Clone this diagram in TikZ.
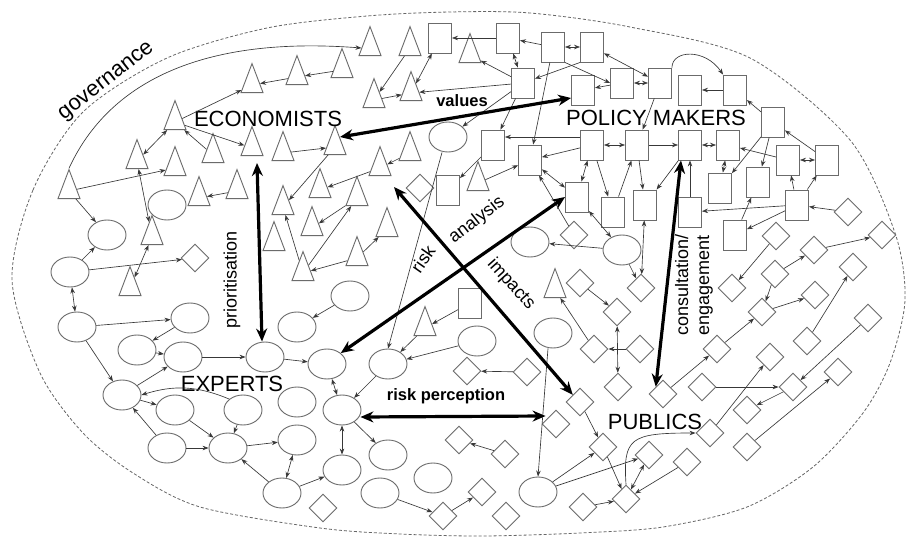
\documentclass[tikz,border=0pt]{standalone}
\usepackage{fontspec}
\setmainfont{Liberation Sans}
\usetikzlibrary{shapes.geometric,arrows.meta}
\begin{document}
\begin{tikzpicture}[x=1pt,y=-1pt,
  shp/.style={draw=black!58, line width=0.9pt, inner sep=0pt, fill=white},
  tri/.style={shp, isosceles triangle, isosceles triangle apex angle=40, isosceles triangle stretches, shape border rotate=90, minimum width=22pt, minimum height=29pt},
  rct/.style={shp, rectangle, minimum width=23pt, minimum height=30pt},
  ell/.style={shp, ellipse, minimum width=38pt, minimum height=30pt},
  dia/.style={shp, diamond, aspect=1, minimum width=28pt, minimum height=28pt},
  con/.style={draw=black!78, line width=0.65pt, -{Stealth[length=6pt,width=4.5pt]}},
  dcon/.style={draw=black!78, line width=0.65pt, {Stealth[length=6pt,width=4.5pt]}-{Stealth[length=6pt,width=4.5pt]}},
  thk/.style={draw=black, line width=3.2pt, {Stealth[length=13pt,width=11pt]}-{Stealth[length=13pt,width=11pt]}},
  big/.style={font=\fontsize{22}{24}\selectfont, inner sep=0pt},
  mid/.style={font=\fontsize{18}{21}\selectfont, inner sep=0pt},
  midb/.style={font=\fontsize{16.5}{20}\selectfont\bfseries, inner sep=0pt}]
\useasboundingbox (0,0) rectangle (907,540);
\fill[white] (0,0) rectangle (907,540);
\draw[black!60, line width=0.8pt, dash pattern=on 3pt off 2pt] plot[smooth cycle] coordinates {
 (12,280) (33,190) (83,112) (167,58) (267,28) (367,16) (450,12) (530,13) (630,27) (750,58) (850,140) (895,233) (905,300) (890,363) (863,413) (813,467) (747,507) (663,527) (580,533) (483,536) (400,534) (320,528) (200,507) (133,473) (83,433) (40,373)};
% triangles
\node[tri] (t1) at (370,48) {};
\node[tri] (t2) at (410,48) {};
\node[tri] (t3) at (342,70) {};
\node[tri] (t4) at (297,77) {};
\node[tri] (t5) at (252,85) {};
\node[tri] (t6) at (374,100) {};
\node[tri] (t7) at (411,93) {};
\node[tri] (t8) at (175,122) {};
\node[tri] (t9) at (252,148) {};
\node[tri] (t10) at (283,153) {};
\node[tri] (t11) at (335,147) {};
\node[tri] (t12) at (137,161) {};
\node[tri] (t13) at (175,168) {};
\node[tri] (t14) at (213,155) {};
\node[tri] (t15) at (380,168) {};
\node[tri] (t16) at (410,153) {};
\node[tri] (t17) at (69,191) {};
\node[tri] (t18) at (199,198) {};
\node[tri] (t19) at (237,191) {};
\node[tri] (t20) at (283,207) {};
\node[tri] (t21) at (320,190) {};
\node[tri] (t22) at (357,198) {};
\node[tri] (t23) at (152,237) {};
\node[tri] (t24) at (274,243) {};
\node[tri] (t25) at (312,228) {};
\node[tri] (t26) at (387,229) {};
\node[tri] (t27) at (357,258) {};
\node[tri] (t28) at (303,273) {};
\node[tri] (t29) at (478,183) {};
\node[tri] (t30) at (555,290) {};
\node[tri] (t31) at (130,288) {};
\node[tri] (t32) at (425,328) {};
\node[tri] (t33) at (470,55) {};
% rectangles
\node[rct] (r1) at (440,38) {};
\node[rct] (r2) at (508,38) {};
\node[rct] (r3) at (553,47) {};
\node[rct] (r4) at (592,47) {};
\node[rct] (r5) at (523,83) {};
\node[rct] (r6) at (583,90) {};
\node[rct] (r7) at (622,83) {};
\node[rct] (r8) at (660,83) {};
\node[rct] (r9) at (690,90) {};
\node[rct] (r10) at (735,90) {};
\node[rct] (r11) at (773,122) {};
\node[rct] (r12) at (493,145) {};
\node[rct] (r13) at (530,160) {};
\node[rct] (r14) at (592,145) {};
\node[rct] (r15) at (637,145) {};
\node[rct] (r16) at (690,145) {};
\node[rct] (r17) at (728,145) {};
\node[rct] (r18) at (788,160) {};
\node[rct] (r19) at (827,160) {};
\node[rct] (r20) at (577,197) {};
\node[rct] (r21) at (613,212) {};
\node[rct] (r22) at (645,205) {};
\node[rct] (r23) at (690,212) {};
\node[rct] (r24) at (720,188) {};
\node[rct] (r25) at (758,182) {};
\node[rct] (r26) at (797,205) {};
\node[rct] (r27) at (735,235) {};
\node[rct] (r28) at (448,190) {};
\node[rct] (r29) at (470,303) {};
% ellipses
\node[ell] (e1) at (167,205) {};
\node[ell] (e2) at (107,235) {};
\node[ell] (e3) at (70,272) {};
\node[ell] (e4) at (77,327) {};
\node[ell] (e5) at (190,318) {};
\node[ell] (e6) at (137,350) {};
\node[ell] (e7) at (183,357) {};
\node[ell] (e8) at (122,395) {};
\node[ell] (e9) at (175,410) {};
\node[ell] (e10) at (243,410) {};
\node[ell] (e11) at (167,448) {};
\node[ell] (e12) at (228,448) {};
\node[ell] (e13) at (297,440) {};
\node[ell] (e14) at (265,357) {};
\node[ell] (e15) at (297,327) {};
\node[ell] (e16) at (297,402) {};
\node[ell] (e17) at (282,493) {};
\node[ell] (e18) at (327,364) {};
\node[ell] (e19) at (350,296) {};
\node[ell] (e20) at (388,364) {};
\node[ell] (e21) at (342,410) {};
\node[ell] (e22) at (388,455) {};
\node[ell] (e23) at (342,470) {};
\node[ell] (e24) at (433,478) {};
\node[ell] (e25) at (380,493) {};
\node[ell] (e26) at (477,341) {};
\node[ell] (e27) at (538,492) {};
\node[ell] (e28) at (553,333) {};
\node[ell] (e29) at (530,242) {};
\node[ell] (e30) at (622,250) {};
\node[ell] (e31) at (448,137) {};
% diamonds
\node[dia] (d1) at (195,258) {};
\node[dia] (d2) at (323,508) {};
\node[dia] (d3) at (443,516) {};
\node[dia] (d4) at (467,371) {};
\node[dia] (d5) at (527,372) {};
\node[dia] (d6) at (556,424) {};
\node[dia] (d7) at (580,402) {};
\node[dia] (d8) at (459,440) {};
\node[dia] (d9) at (505,454) {};
\node[dia] (d10) at (482,492) {};
\node[dia] (d11) at (506,516) {};
\node[dia] (d12) at (583,507) {};
\node[dia] (d13) at (603,447) {};
\node[dia] (d14) at (594,349) {};
\node[dia] (d15) at (580,283) {};
\node[dia] (d16) at (641,288) {};
\node[dia] (d17) at (617,312) {};
\node[dia] (d18) at (640,349) {};
\node[dia] (d19) at (618,387) {};
\node[dia] (d20) at (663,394) {};
\node[dia] (d21) at (649,455) {};
\node[dia] (d22) at (687,462) {};
\node[dia] (d23) at (710,433) {};
\node[dia] (d24) at (626,499) {};
\node[dia] (d25) at (732,288) {};
\node[dia] (d26) at (775,274) {};
\node[dia] (d27) at (762,312) {};
\node[dia] (d28) at (815,295) {};
\node[dia] (d29) at (717,349) {};
\node[dia] (d30) at (770,357) {};
\node[dia] (d31) at (807,341) {};
\node[dia] (d32) at (868,318) {};
\node[dia] (d33) at (702,387) {};
\node[dia] (d34) at (793,387) {};
\node[dia] (d35) at (838,372) {};
\node[dia] (d36) at (747,410) {};
\node[dia] (d37) at (747,447) {};
\node[dia] (d40) at (574,235) {};
\node[dia] (d41) at (776,236) {};
\node[dia] (d42) at (814,250) {};
\node[dia] (d43) at (848,212) {};
\node[dia] (d44) at (853,267) {};
\node[dia] (d45) at (882,235) {};
\node[dia] (d46) at (420,188) {};
% labels
\node[big] (leco) at (268,119) {ECONOMISTS};
\node[big] (lpol) at (656,118) {POLICY MAKERS};
\node[big] (lexp) at (232,384) {EXPERTS};
\node[big] (lpub) at (655,422) {PUBLICS};
\node[big, rotate=38] (lgov) at (107,82) {governance};
\node[midb] (lval) at (462,101) {values};
\node[midb] (lrp) at (446,396) {risk perception};
\node[mid, rotate=90] (lpri) at (232,280) {prioritisation};
\node[mid, rotate=55] (lrisk) at (423,259) {risk};
\node[mid, rotate=38] (lana) at (477,220) {analysis};
\node[mid, rotate=-48] (limp) at (511,284) {impacts};
\node[mid, rotate=90, align=left] (lcon) at (694,285) {consultation/\\engagement};
% thin connectors: triangles
\draw[con] (t17.north) .. controls (105,90) and (190,35) .. (t1.west);
\draw[con] (t3) -- (t4);
\draw[con] (t4) -- (t5);
\draw[con] (t8) -- (t5);
\draw[con] (t2) -- (t6);
\draw[con] (t6) -- (t7);
\draw[dcon] (t7) -- (r1);
\draw[con] (r5) -- (t7);
\draw[con] (r5) -- (t33);
\draw[dcon] (t8) -- (t12);
\draw[con] (t14) -- (t8);
\draw[con] (t8) -- (t9);
\draw[con] (t10) -- (t11);
\draw[con] (t17) -- (t13);
\draw[con] (t17) -- (e2);
\draw[con] (e3) -- (e2);
\draw[con] (e3) -- (d1);
\draw[dcon] (t12) -- (t23);
\draw[dcon] (t23) -- (t31);
\draw[dcon] (e3) -- (e4);
\draw[con] (t19) -- (t18);
\draw[con] (t11) -- (t20);
\draw[con] (t16) -- (t15);
\draw[con] (t15) -- (t21);
\draw[con] (t22) -- (t25);
\draw[con] (t28) -- (t22);
\draw[con] (t28) -- (t20);
\draw[con] (t27) -- (t28);
\draw[con] (t27) -- (t26);
% rectangles
\draw[con] (r2) -- (r1);
\draw[con] (r3) -- (r2);
\draw[dcon] (r2) -- (r5);
\draw[dcon] (r3) -- (r4);
\draw[con] (r4.south west) -- (r5);
\draw[con] (r3.south east) -- (r7.west);
\draw[con] (r7) -- (r6);
\draw[dcon] (r4) -- (r8);
\draw[dcon] (r7) -- (r8);
\draw[con] (r8.north east) .. controls (672,50) and (705,48) .. (r10.north west);
\draw[con] (r10) -- (r9);
\draw[con] (r11) -- (r10);
\draw[con] (r3) -- (r13);
\draw[con] (r5) -- (r12);
\draw[con] (r5) -- (e31);
\draw[con] (r8) -- (r15);
\draw[con] ([shift={(0,-8)}]r14.west) -- ([shift={(0,-8)}]r12.east);
\draw[dcon] (r14) -- (r15);
\draw[con] (r15) -- (r16);
\draw[dcon] (r16) -- (r17);
\draw[dcon] (r17) -- (r24);
\draw[dcon] (r18) -- (r19);
\draw[con] (r19) -- (r11);
\draw[con] (r18) -- (r17);
\draw[con] (r11) -- (r24);
\draw[con] (r11) -- (r25);
\draw[con] (r26) -- (r18);
\draw[con] (r26) -- (r19);
\draw[con] (d43) -- (r26);
\draw[con] (r26) -- (r23);
\draw[con] (r26) -- (r27);
\draw[con] (r27) -- (r25);
\draw[con] (r23) -- (r16);
\draw[con] (r16) -- (r22);
\draw[con] (r14) -- (r21);
\draw[con] (r21) -- (r15);
\draw[con] (r15) -- (r22);
\draw[dcon] (r14) -- (r20);
\draw[dcon] (r13) -- (r20);
\draw[con] (r14) -- (r13);
\draw[con] (r12) -- (r28);
\draw[con] (t29) -- (r13);
\draw[con] (d40) -- (r13);
\draw[dcon] (r20) -- (e30);
\draw[con] (e30) -- (e29);
\draw[con] (e30) -- (d16);
\draw[dcon] (r22) -- (d16);
\draw[con] (r29) -- (t32);
% ellipses
\draw[con] ([shift={(-6,0)}]e31.south) -- (e20.north);
\draw[con] (e19) -- (e15);
\draw[con] (e26) -- (e20);
\draw[con] (t32) -- (e20);
\draw[con] (e20) -- (e21);
\draw[dcon] (e18) -- (e21);
\draw[con] (d5) -- (d4);
\draw[con] (e21) -- (e22);
\draw[dcon] (e21) -- (e23);
\draw[con] (d9) -- (d8);
\draw[con] (e25) -- (d3);
\draw[con] (d3) -- (d10);
\draw[con] ([shift={(-5,0)}]e28.south) -- (e27.north);
\draw[con] (e27) -- (d13);
\draw[con] (e27) -- (d21);
\draw[con] (e17) -- (e23);
\draw[con] (e17) -- (e12);
\draw[dcon] (e17) -- (e13);
\draw[con] (e12) -- (e13);
\draw[con] (e11) -- (e12);
\draw[con] (e11) -- (e8);
\draw[con] (e9) -- (e12);
\draw[con] (e10) -- (e12);
\draw[con] (e10.north west) to[bend right=20] (e8.east);
\draw[con] (e8) -- (e9);
\draw[con] (e8) -- (e7);
\draw[con] (e4) -- (e8);
\draw[con] (e4) -- (e5);
\draw[con] (e5) -- (e6);
\draw[con] (e6) -- (e7);
\draw[con] (e7) -- (e14);
\draw[con] (e14) -- (e18);
% diamonds
\draw[con] (d15) -- (d17);
\draw[dcon] (d17) -- (d19);
\draw[con] (d18) -- (d14);
\draw[con] (d14) -- (t30);
\draw[con] (d20) -- (d29);
\draw[con] (d29) -- (d27);
\draw[con] (d26) -- (d27);
\draw[con] (d27) -- (d28);
\draw[con] (d31) -- (d44);
\draw[con] (d32) -- (d34);
\draw[con] (d34) -- (d36);
\draw[con] (d33) -- (d34);
\draw[con] (d23) -- (d30);
\draw[con] (d37) -- (d35);
\draw[con] (d24.north) .. controls (623,438) and (630,433) .. (d23.west);
\draw[con] (d13) -- (d24);
\draw[dcon] (d21) -- (d24);
\draw[con] (d22) -- (d24);
\draw[con] (d12) -- (d24);
\draw[con] (d7) -- (d13);
\draw[con] (d41) -- (d25);
\draw[con] (d26) -- (d42);
\draw[con] (d42) -- (d45);
% thick arrows
\draw[thk] ([shift={(5,-10)}]t11.center) -- ([shift={(0,8)}]r6.west);
\draw[thk] ([shift={(5,15)}]t9.center) -- ([shift={(-3,0)}]e14.north);
\draw[thk] (e18.north east) -- (r20.west);
\draw[thk] ([shift={(14,19)}]t15.center) -- (d7.north west);
\draw[thk] ([shift={(-9,0)}]r16.south) -- (d20.north west);
\draw[thk] ([shift={(-1,7)}]e21.east) -- ([shift={(4,-8)}]d6.west);
\end{tikzpicture}
\end{document}
